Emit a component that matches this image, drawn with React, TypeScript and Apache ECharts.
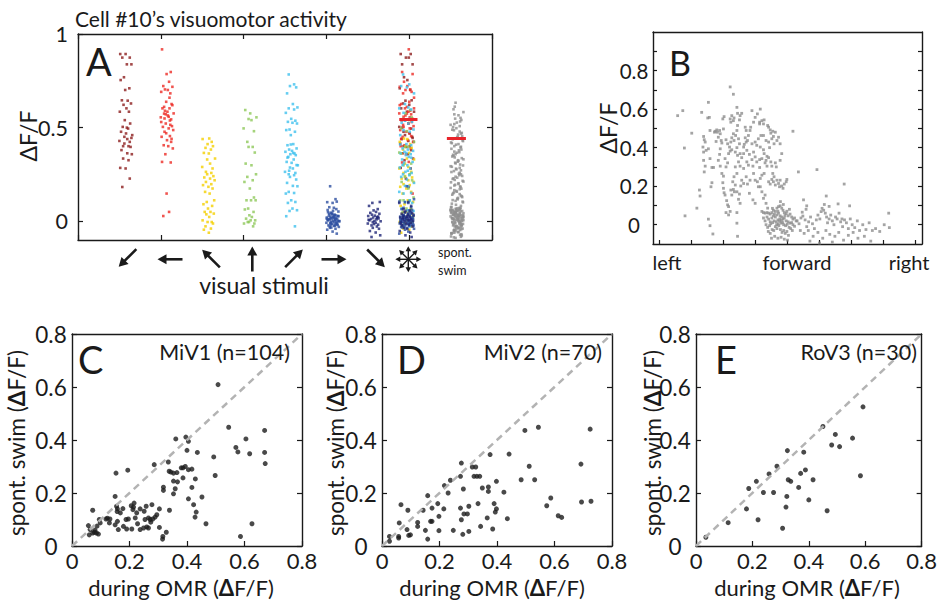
import React, { useEffect, useRef } from "react";
import * as echarts from "echarts";

const FONT = "Lato, 'Open Sans', sans-serif";
const INK = "#1a1a1a";

// ---------- Panel A : cell #10, dF/F per trial ----------
const stimulusColors = ["#8c1d1d", "#ec2a24", "#f4d000", "#8fc85a", "#3fc0ee", "#2d4fa0", "#1f2577"];
const darkRedVals = [0.893, 0.893, 0.874, 0.874, 0.838, 0.838, 0.769, 0.754, 0.71, 0.701, 0.644, 0.646, 0.629, 0.622, 0.603, 0.585, 0.585, 0.54, 0.522, 0.504, 0.495, 0.478, 0.469, 0.46, 0.451, 0.439, 0.429, 0.424, 0.401, 0.401, 0.415, 0.397, 0.38, 0.363, 0.358, 0.335, 0.326, 0.285, 0.282, 0.228, 0.183, 0.5, 0.445];
const redVals = [0.918, 0.797, 0.786, 0.745, 0.722, 0.718, 0.704, 0.701, 0.691, 0.683, 0.638, 0.626, 0.611, 0.603, 0.603, 0.585, 0.576, 0.571, 0.558, 0.555, 0.544, 0.549, 0.538, 0.522, 0.508, 0.504, 0.496, 0.487, 0.478, 0.455, 0.451, 0.433, 0.424, 0.406, 0.401, 0.389, 0.358, 0.317, 0.314, 0.148, 0.05, 0.028, 0.62, 0.59, 0.565, 0.53, 0.515, 0.47, 0.44, 0.575, 0.66];
const yellowVals = [0.442, 0.439, 0.424, 0.412, 0.401, 0.392, 0.383, 0.365, 0.362, 0.335, 0.33, 0.308, 0.29, 0.282, 0.264, 0.258, 0.251, 0.241, 0.234, 0.228, 0.219, 0.21, 0.198, 0.193, 0.184, 0.175, 0.157, 0.148, 0.112, 0.103, 0.091, 0.082, 0.068, 0.05, 0.05, 0.041, 0.037, 0.023, 0.005, -0.004, -0.004, -0.012, -0.027, -0.039, -0.045, -0.061];
const greenVals = [0.594, 0.576, 0.555, 0.546, 0.54, 0.496, 0.481, 0.424, 0.397, 0.397, 0.367, 0.308, 0.299, 0.251, 0.237, 0.219, 0.21, 0.175, 0.127, 0.112, 0.112, 0.112, 0.068, 0.063, 0.05, 0.032, 0.023, 0.014, 0.005, -0.004, 0.005, -0.012, -0.027, -0.004, -0.012];
const cyanVals = [0.784, 0.731, 0.722, 0.715, 0.683, 0.626, 0.608, 0.603, 0.597, 0.579, 0.547, 0.537, 0.531, 0.526, 0.522, 0.49, 0.487, 0.478, 0.46, 0.412, 0.406, 0.389, 0.383, 0.376, 0.371, 0.362, 0.358, 0.353, 0.344, 0.33, 0.317, 0.312, 0.299, 0.287, 0.282, 0.264, 0.258, 0.251, 0.246, 0.237, 0.223, 0.205, 0.189, 0.187, 0.157, 0.151, 0.148, 0.112, 0.103, 0.098, 0.068, 0.059, 0.055, 0.027, -0.027, 0.41, 0.365, 0.34, 0.3, 0.27];
const blueVals = [0.187, 0.118, 0.102, 0.098, 0.105, 0.075, 0.072, 0.052, 0.046, 0.06, 0.065, 0.042, 0.035, 0.03, 0.028, 0.025, 0.022, 0.02, 0.018, 0.015, 0.012, 0.01, 0.008, 0.005, 0.003, 0.0, -0.002, -0.005, -0.008, -0.01, -0.012, -0.015, -0.018, -0.02, -0.022, -0.025, -0.03, -0.035, -0.04, -0.045, -0.055, -0.066, 0.04, 0.033, 0.027, 0.017, 0.007, -0.003, -0.013, -0.023, 0.012, 0.002, -0.007, 0.024, 0.014, 0.031, 0.038, -0.016, -0.028, 0.009, 0.048, 0.056, 0.001, -0.033, 0.019];
const navyVals = [0.103, 0.098, 0.082, 0.065, 0.058, 0.05, 0.045, 0.04, 0.035, 0.03, 0.028, 0.022, 0.02, 0.015, 0.012, 0.01, 0.005, 0.002, 0.0, -0.005, -0.008, -0.012, -0.018, -0.022, -0.028, -0.035, -0.04, -0.052, -0.06, -0.075, -0.084, 0.018, 0.008, -0.015, 0.025];
const stimulusVals = [darkRedVals, redVals, yellowVals, greenVals, cyanVals, blueVals, navyVals];
const spontVals = [
  0.633, 0.571, 0.598, 0.552, 0.612, 0.541, 0.583, 0.519, 0.566, 0.527, 0.548, 0.503, 0.533, 0.489, 0.515, 0.472, 0.508, 0.463, 0.497, 0.451,
  0.486, 0.441, 0.479, 0.428, 0.468, 0.417, 0.455, 0.409, 0.447, 0.398, 0.438, 0.387, 0.432, 0.379, 0.421, 0.369, 0.412, 0.358, 0.401, 0.349,
  0.394, 0.341, 0.383, 0.331, 0.372, 0.322, 0.366, 0.313, 0.355, 0.303, 0.346, 0.294, 0.337, 0.285, 0.326, 0.277, 0.318, 0.268, 0.309, 0.259,
  0.298, 0.251, 0.291, 0.242, 0.281, 0.233, 0.272, 0.226, 0.263, 0.216, 0.254, 0.208, 0.246, 0.199, 0.238, 0.191, 0.229, 0.183, 0.221, 0.174,
  0.212, 0.166, 0.203, 0.158, 0.195, 0.149, 0.186, 0.142, 0.178, 0.133, 0.171, 0.125, 0.162, 0.117, 0.154, 0.109, 0.145, 0.101, 0.137, 0.094,
  0.129, 0.088, 0.121, 0.082, 0.113, 0.077, 0.105, 0.071,
  0.074, -0.012, 0.031, 0.066, -0.045, 0.012, 0.052, -0.028, 0.004, 0.043, -0.061, 0.021, 0.069, -0.005, 0.036, -0.072, 0.015, 0.058, -0.019, 0.027,
  -0.038, 0.063, 0.008, -0.051, 0.047, -0.002, 0.033, -0.083, 0.018, 0.055, -0.025, 0.039, -0.009, 0.061, -0.066, 0.024, 0.002, 0.049, -0.034, 0.014,
  -0.089, 0.041, -0.016, 0.072, 0.029, -0.042, 0.006, 0.053, -0.057, 0.019, 0.037, -0.022, 0.064, -0.003, 0.026, -0.076, 0.045, 0.011, -0.031, 0.057,
  -0.048, 0.022, 0.068, -0.014, 0.034, -0.063, 0.009, 0.051, -0.026, 0.016, -0.007, 0.044, -0.039, 0.03, -0.081, 0.06, 0.001, -0.053, 0.038, 0.013,
  -0.018, 0.048, -0.069, 0.025, 0.005, -0.035, 0.056, -0.011, 0.035, -0.047, 0.017, 0.062, -0.023, 0.04, -0.058, 0.007, 0.028, -0.086, 0.046, -0.004,
  0.02, -0.029, 0.059, 0.003, -0.041, 0.032, -0.015, 0.05, -0.064, 0.023,
];
const meanAllStim = 0.544;
const meanSpont = 0.442;
// horizontal scatter offsets of the strips (in category units)
const jitter = [0.12, 0.27, 0.05, 0.19, 0.3, 0.09, 0.22, 0.02, 0.15, 0.25, 0.07, 0.18, 0.29, 0.11, 0.03, 0.24, 0.14, 0.2, 0.06, 0.28, 0.1, 0.17, 0.01, 0.23, 0.13, 0.26, 0.08, 0.21, 0.04, 0.16, 0.31, 0.12, 0.19, 0.0, 0.25, 0.09, 0.22];

// ---------- Panel B : dF/F vs swim direction ----------
const dirPoints = [
  [0.57, 0.566], [0.73, 0.592], [0.78, 0.398], [0.8, 0.046], [1.01, 0.475], [1.17, 0.086], [1.25, 0.18], [1.27, 0.149], [1.53, 0.635], [1.32, 0.583], [1.51, 0.554], [1.56, 0.557], [1.58, 0.489], [1.53, 0.029], [1.58, -0.005], [1.67, -0.048], [1.64, 0.218], [1.61, 0.197],
  [1.38, 0.458], [1.4, 0.441], [1.43, 0.429], [1.36, 0.403], [1.38, 0.377], [1.46, 0.386], [1.53, 0.394], [1.38, 0.334], [1.43, 0.304], [1.4, 0.274], [1.58, 0.343], [1.64, 0.297], [1.69, 0.297], [1.72, 0.48], [1.74, 0.485], [1.79, 0.492], [1.81, 0.48], [1.88, 0.489], [1.9, 0.472], [1.84, 0.454], [1.77, 0.432], [1.93, 0.437], [1.95, 0.424], [1.9, 0.394], [1.88, 0.365], [1.84, 0.334], [2.0, 0.497], [2.02, 0.561], [1.98, 0.549], [1.9, 0.304], [1.95, 0.266], [2.0, 0.252], [1.98, 0.218], [2.0, 0.189], [2.02, 0.166], [2.05, 0.154], [2.1, 0.125], [2.13, 0.103], [2.08, 0.063], [2.16, 0.051], [2.21, 0.069], [2.16, 0.094], [2.08, 0.3], [2.13, 0.321], [2.05, 0.343], [2.16, 0.369], [2.21, 0.382], [2.26, 0.389], [2.19, 0.403], [2.23, 0.429], [2.13, 0.42], [2.08, 0.441], [2.26, 0.451], [2.31, 0.472], [2.21, 0.549], [2.23, 0.532], [2.31, 0.54], [2.26, 0.566], [2.33, 0.554], [2.21, 0.715], [2.31, 0.677], [2.42, 0.609], [2.44, 0.578], [2.52, 0.566], [2.57, 0.578], [2.5, 0.544], [2.44, 0.515], [2.42, 0.489], [2.38, 0.463], [2.33, 0.437], [2.47, 0.446], [2.5, 0.42], [2.42, 0.4], [2.37, 0.377], [2.44, 0.36], [2.52, 0.369], [2.57, 0.348], [2.47, 0.326], [2.52, 0.304], [2.63, 0.292], [2.37, 0.3], [2.42, 0.266], [2.33, 0.249], [2.29, 0.223], [2.37, 0.206], [2.31, 0.183], [2.23, 0.18], [2.26, 0.154], [2.42, 0.171], [2.5, 0.159], [2.57, 0.231], [2.54, 0.201], [2.47, 0.132], [2.52, 0.111], [2.42, 0.063], [2.42, 0.008], [2.44, -0.06], [2.34, 0.171],
  [2.63, 0.403], [2.65, 0.417], [2.71, 0.429], [2.75, 0.437], [2.68, 0.451], [2.78, 0.463], [2.83, 0.489], [2.85, 0.506], [2.94, 0.532], [2.99, 0.557], [3.06, 0.575], [3.15, 0.6], [2.89, 0.592], [2.68, 0.506], [2.71, 0.489], [2.73, 0.386], [2.81, 0.365], [2.89, 0.338], [2.73, 0.326], [2.63, 0.369], [2.78, 0.309], [2.92, 0.304], [2.99, 0.352], [2.94, 0.266], [2.99, 0.231], [2.83, 0.231], [2.75, 0.211], [2.63, 0.214], [2.71, 0.249], [2.81, 0.163], [2.92, 0.129], [2.99, 0.111], [3.09, 0.197], [3.06, 0.223], [3.15, 0.24], [3.2, 0.257], [3.13, 0.297], [3.04, 0.326], [2.94, 0.377], [2.89, 0.42], [2.99, 0.429], [3.04, 0.412], [3.09, 0.446], [3.17, 0.463], [3.25, 0.463], [3.33, 0.437], [3.15, 0.403], [3.25, 0.389], [3.27, 0.369], [3.2, 0.343], [3.13, 0.338], [3.3, 0.321], [3.36, 0.304], [3.27, 0.266], [3.15, 0.197], [3.2, 0.171], [3.3, 0.154], [3.25, 0.137], [3.33, 0.111], [3.38, 0.086],
  [3.13, 0.532], [3.13, 0.523], [3.2, 0.54], [3.27, 0.544], [3.25, 0.523], [3.38, 0.515], [3.41, 0.506], [3.46, 0.492], [3.48, 0.475], [3.54, 0.485], [3.62, 0.48], [3.56, 0.458], [3.51, 0.446], [3.58, 0.42], [3.67, 0.437], [3.72, 0.454], [3.77, 0.42], [3.41, 0.429], [3.44, 0.4], [3.36, 0.355], [3.41, 0.348], [3.33, 0.334], [3.48, 0.326], [3.51, 0.304], [3.62, 0.321], [3.65, 0.3], [3.54, 0.266], [3.58, 0.249], [3.51, 0.235], [3.46, 0.211], [3.41, 0.223], [3.56, 0.223], [3.67, 0.231], [3.62, 0.206], [3.72, 0.214], [3.77, 0.231], [3.75, 0.197], [3.82, 0.201], [3.9, 0.211], [3.86, 0.189], [3.96, 0.223], [3.98, 0.235], [3.77, 0.334], [3.82, 0.369], [4.17, 0.485], [4.34, 0.274], [4.5, 0.129], [4.6, 0.098], [4.92, 0.286], [5.21, 0.149], [5.77, 0.211], [5.94, 0.098], [7.16, 0.06],
  [3.2, 0.069], [3.25, 0.063], [3.3, 0.06], [3.36, 0.063], [3.41, 0.06], [3.46, 0.055], [3.51, 0.063], [3.56, 0.075], [3.62, 0.069], [3.67, 0.086], [3.72, 0.094], [3.77, 0.098], [3.82, 0.086], [3.86, 0.075], [3.9, 0.063], [3.96, 0.058], [4.02, 0.046], [4.08, 0.055], [4.13, 0.04], [4.17, 0.029], [4.22, 0.035], [4.27, 0.02], [3.25, 0.035], [3.3, 0.02], [3.36, 0.04], [3.41, 0.029], [3.46, 0.015], [3.51, 0.035], [3.56, 0.046], [3.62, 0.04], [3.67, 0.051], [3.72, 0.06], [3.77, 0.046], [3.82, 0.04], [3.86, 0.029], [3.9, 0.035], [3.96, 0.02], [4.02, 0.015], [4.08, 0.008], [4.13, 0.011], [4.17, 0.0], [4.22, -0.008], [3.33, 0.0], [3.38, -0.014], [3.44, -0.005], [3.48, 0.005], [3.54, 0.011], [3.58, 0.02], [3.65, 0.015], [3.7, 0.025], [3.75, 0.018], [3.8, 0.008], [3.85, 0.011], [3.88, 0.0], [3.94, -0.005], [3.99, 0.002], [4.05, -0.014], [4.1, -0.02], [4.15, -0.03], [3.4, -0.035], [3.46, -0.045], [3.52, -0.025], [3.57, -0.03], [3.62, -0.01], [3.67, -0.02], [3.73, -0.005], [3.78, -0.025], [3.83, -0.04], [3.88, -0.03], [3.93, -0.045], [3.98, -0.035], [4.03, -0.055], [3.6, -0.06], [3.7, -0.07], [3.8, -0.065], [3.9, -0.075], [4.0, -0.08], [3.5, -0.07], [3.66, 0.0], [3.71, 0.004], [3.76, 0.03], [3.81, 0.022], [3.92, 0.048], [3.98, 0.07], [4.06, 0.08], [3.87, 0.105], [3.78, 0.12], [3.7, 0.07], [3.59, 0.055], [3.53, 0.085],
  [4.3, 0.02], [4.36, 0.005], [4.42, 0.035], [4.48, 0.045], [4.55, 0.025], [4.6, -0.01], [4.66, 0.015], [4.72, 0.04], [4.78, 0.005], [4.84, -0.02], [4.9, 0.025], [4.95, 0.05], [5.01, 0.03], [5.05, 0.068], [5.08, 0.085], [5.13, 0.075], [5.18, 0.06], [5.22, 0.04], [5.25, 0.01], [5.3, 0.03], [5.35, 0.05], [5.4, 0.02], [5.45, 0.0], [5.5, 0.04], [5.55, 0.03], [5.61, 0.06], [5.66, 0.015], [5.72, -0.01], [5.78, 0.025], [5.84, 0.01], [5.9, -0.02], [5.96, 0.03], [6.02, 0.0], [6.1, -0.015], [6.18, 0.02], [6.25, -0.03], [6.35, 0.0], [6.45, -0.025], [6.55, 0.01], [6.65, -0.03], [6.75, -0.02], [6.88, -0.035], [7.02, 0.0], [7.18, -0.015], [4.4, -0.03], [4.52, -0.045], [4.65, -0.03], [4.8, -0.06], [4.95, -0.04], [5.1, -0.07], [5.2, -0.03], [5.32, -0.05], [5.48, -0.06], [5.6, -0.04], [5.75, -0.08], [5.9, -0.055], [6.05, -0.04], [6.2, -0.07], [6.4, -0.06], [6.6, -0.085], [4.7, -0.085], [5.0, -0.095], [5.4, -0.09], [4.46, 0.065], [4.58, 0.08], [5.15, 0.105], [5.3, 0.095], [5.7, 0.03], [5.58, 0.108],
];
const dirTicks = [0, 1, 2, 3, 4, 5, 6, 7, 8];
const dirLabels = ["left", "forward", "right"];

// ---------- Panels C, D, E : spont. swim vs during OMR ----------
const miv1 = [
  [0.508, 0.609], [0.545, 0.448], [0.67, 0.436], [0.605, 0.404], [0.361, 0.404], [0.396, 0.411], [0.405, 0.395], [0.57, 0.372], [0.577, 0.355], [0.618, 0.348], [0.67, 0.353], [0.672, 0.311], [0.4, 0.361], [0.436, 0.353], [0.493, 0.336], [0.498, 0.266], [0.335, 0.317], [0.194, 0.286], [0.153, 0.275], [0.286, 0.307], [0.338, 0.282], [0.344, 0.279], [0.353, 0.275], [0.365, 0.277], [0.38, 0.295], [0.386, 0.295], [0.394, 0.3], [0.405, 0.288], [0.417, 0.29], [0.353, 0.245], [0.367, 0.242], [0.386, 0.257], [0.429, 0.253], [0.359, 0.216], [0.318, 0.222], [0.318, 0.21], [0.353, 0.197], [0.405, 0.178], [0.417, 0.221], [0.452, 0.185], [0.423, 0.156], [0.432, 0.128], [0.428, 0.109], [0.466, 0.084], [0.586, 0.036], [0.626, 0.084], [0.339, 0.135], [0.304, 0.14], [0.278, 0.156], [0.258, 0.15], [0.251, 0.131], [0.295, 0.118], [0.289, 0.109], [0.281, 0.102], [0.272, 0.1], [0.304, 0.07], [0.316, 0.036], [0.315, 0.026], [0.328, 0.052], [0.225, 0.125], [0.237, 0.14], [0.216, 0.162], [0.206, 0.152], [0.214, 0.147], [0.212, 0.137], [0.177, 0.141], [0.168, 0.125], [0.158, 0.14], [0.15, 0.187], [0.155, 0.15], [0.157, 0.13], [0.158, 0.093], [0.161, 0.062], [0.196, 0.102], [0.22, 0.106], [0.228, 0.084], [0.237, 0.062], [0.208, 0.064], [0.19, 0.064], [0.179, 0.074], [0.254, 0.1], [0.266, 0.106], [0.249, 0.068], [0.26, 0.072], [0.266, 0.068], [0.274, 0.09], [0.072, 0.135], [0.118, 0.102], [0.123, 0.105], [0.132, 0.102], [0.13, 0.087], [0.095, 0.1], [0.098, 0.087], [0.063, 0.062], [0.072, 0.049], [0.078, 0.052], [0.057, 0.077], [0.08, 0.06], [0.085, 0.049], [0.092, 0.045], [0.06, 0.042], [0.087, 0.075], [0.15, 0.08], [0.188, 0.1],
];
const miv2 = [
  [0.724, 0.441], [0.544, 0.448], [0.497, 0.436], [0.442, 0.347], [0.376, 0.345], [0.512, 0.301], [0.484, 0.25], [0.531, 0.25], [0.692, 0.309], [0.694, 0.166], [0.727, 0.169], [0.587, 0.181], [0.573, 0.152], [0.613, 0.114], [0.625, 0.108], [0.436, 0.103], [0.424, 0.203], [0.398, 0.244], [0.37, 0.223], [0.37, 0.206], [0.349, 0.219], [0.334, 0.16], [0.39, 0.16], [0.398, 0.14], [0.394, 0.128], [0.366, 0.106], [0.385, 0.064], [0.314, 0.298], [0.326, 0.298], [0.32, 0.263], [0.33, 0.263], [0.34, 0.263], [0.276, 0.313], [0.273, 0.263], [0.283, 0.215], [0.23, 0.2], [0.217, 0.228], [0.238, 0.248], [0.194, 0.16], [0.215, 0.14], [0.198, 0.112], [0.174, 0.143], [0.169, 0.093], [0.174, 0.093], [0.159, 0.19], [0.151, 0.059], [0.159, 0.026], [0.198, 0.058], [0.248, 0.059], [0.281, 0.044], [0.302, 0.055], [0.276, 0.099], [0.285, 0.121], [0.297, 0.121], [0.302, 0.15], [0.273, 0.143], [0.143, 0.135], [0.124, 0.089], [0.124, 0.074], [0.093, 0.04], [0.099, 0.042], [0.087, 0.062], [0.066, 0.156], [0.09, 0.135], [0.06, 0.087], [0.058, 0.036], [0.058, 0.03], [0.026, 0.036], [0.026, 0.018], [0.343, 0.074],
];
const rov3 = [
  [0.035, 0.033], [0.114, 0.088], [0.179, 0.14], [0.187, 0.217], [0.214, 0.244], [0.22, 0.099], [0.239, 0.202], [0.259, 0.272], [0.275, 0.202], [0.287, 0.301], [0.307, 0.067], [0.319, 0.147], [0.322, 0.187], [0.324, 0.36], [0.327, 0.25], [0.336, 0.244], [0.364, 0.221], [0.371, 0.274], [0.382, 0.354], [0.388, 0.287], [0.4, 0.174], [0.415, 0.25], [0.45, 0.451], [0.465, 0.133], [0.481, 0.381], [0.494, 0.421], [0.509, 0.375], [0.555, 0.407], [0.583, 0.265], [0.592, 0.525],
];
const identity = [0, 0.8];
const scatterPanels = [
  { letter: "C", label: "MiV1 (n=104)", data: miv1 },
  { letter: "D", label: "MiV2 (n=70)", data: miv2 },
  { letter: "E", label: "RoV3 (n=30)", data: rov3 },
];

// ---------- layout ----------
const gridA = { left: 78, top: 34, width: 414, height: 206 };
const gridB = { left: 653, top: 32, width: 269, height: 212 };
const gridsCDE = [
  { left: 72, top: 334, width: 230, height: 212 },
  { left: 382, top: 334, width: 230, height: 212 },
  { left: 696, top: 334, width: 229, height: 212 },
];

const lineStyle = { color: INK, width: 1.4 };
const tickStyle = { color: INK, width: 1.2 };

function axis(o: any) {
  return {
    type: "value",
    splitLine: { show: false },
    axisLine: { show: true, onZero: false, lineStyle },
    axisTick: { show: false },
    axisLabel: { show: false },
    ...o,
  };
}

function txt(text: string, x: number, y: number, fontSize: number, o: any = {}) {
  const align = o.align || "left";
  const va = o.va || "middle";
  return {
    type: "text",
    x,
    y,
    rotation: o.rotation || 0,
    silent: true,
    z: 100,
    style: {
      text,
      fontSize,
      fontFamily: FONT,
      fill: INK,
      align,
      verticalAlign: va,
      textAlign: align,
      textVerticalAlign: va,
      rich: o.rich,
    },
  };
}

function arrow(cx: number, cy: number, dx: number, dy: number, len: number, lw: number, hl: number, hw: number) {
  const n = Math.hypot(dx, dy);
  const ux = dx / n;
  const uy = dy / n;
  const tx = cx - (ux * len) / 2;
  const ty = cy - (uy * len) / 2;
  const hx = cx + (ux * len) / 2;
  const hy = cy + (uy * len) / 2;
  const bx = hx - ux * hl;
  const by = hy - uy * hl;
  const px = -uy;
  const py = ux;
  return [
    { type: "line", silent: true, shape: { x1: tx, y1: ty, x2: bx + ux, y2: by + uy }, style: { stroke: INK, lineWidth: lw } },
    {
      type: "polygon",
      silent: true,
      shape: { points: [[hx, hy], [bx + (px * hw) / 2, by + (py * hw) / 2], [bx - (px * hw) / 2, by - (py * hw) / 2]] },
      style: { fill: INK },
    },
  ];
}

const arrowLayout = [
  [127.5, 258, -1, 1],
  [170, 259.3, -1, 0],
  [211, 258.5, -1, -1],
  [252.3, 259, 0, -1],
  [294, 258.3, 1, -1],
  [334, 259.3, 1, 0],
  [376, 258.3, 1, 1],
];
const starCenter = [408.3, 259.3];

function buildOption() {
  const xAxis: any[] = [];
  const yAxis: any[] = [];
  const series: any[] = [];

  // Panel A axes
  xAxis.push(axis({ gridIndex: 0, min: 0, max: 10, interval: 2, position: "bottom", axisTick: { show: true, inside: true, length: 5, lineStyle: tickStyle } }));
  xAxis.push(axis({ gridIndex: 0, min: 0, max: 10, interval: 2, position: "top", axisTick: { show: true, inside: true, length: 5, lineStyle: tickStyle } }));
  yAxis.push(
    axis({
      gridIndex: 0,
      min: -0.1,
      max: 1,
      position: "left",
      axisTick: { show: true, inside: true, length: 5, lineStyle: tickStyle, customValues: [0, 0.5, 1] },
      axisLabel: { show: true, customValues: [0, 0.5, 1], fontSize: 21.5, fontFamily: FONT, color: INK, margin: 10 },
    })
  );
  yAxis.push(axis({ gridIndex: 0, min: -0.1, max: 1, position: "right", axisTick: { show: true, inside: true, length: 5, lineStyle: tickStyle, customValues: [0, 0.5] } }));

  // Panel B axes
  const bTicks = [0, 0.1, 0.2, 0.3, 0.4, 0.5, 0.6, 0.7, 0.8, 0.9];
  xAxis.push(axis({ gridIndex: 1, min: -0.2, max: 8.2, position: "bottom", axisTick: { show: true, inside: true, length: 4, lineStyle: tickStyle, customValues: dirTicks } }));
  xAxis.push(axis({ gridIndex: 1, min: -0.2, max: 8.2, position: "top" }));
  yAxis.push(
    axis({
      gridIndex: 1,
      min: -0.1,
      max: 1,
      position: "left",
      axisTick: { show: true, inside: true, length: 4, lineStyle: tickStyle, customValues: bTicks },
      axisLabel: { show: true, customValues: [0, 0.2, 0.4, 0.6, 0.8], fontSize: 20.5, fontFamily: FONT, color: INK, margin: 19, align: "center" },
    })
  );
  yAxis.push(axis({ gridIndex: 1, min: -0.1, max: 1, position: "right", axisTick: { show: true, inside: true, length: 4, lineStyle: tickStyle, customValues: bTicks } }));

  // Panels C-E axes
  const fmt = (v: number) => (v === 0 ? "0" : v.toFixed(1));
  gridsCDE.forEach((_, i) => {
    const g = i + 2;
    xAxis.push(
      axis({
        gridIndex: g,
        min: 0,
        max: 0.8,
        interval: 0.2,
        position: "bottom",
        axisTick: { show: true, inside: true, length: 5, lineStyle: tickStyle },
        axisLabel: { show: true, fontSize: 22, fontFamily: FONT, color: INK, margin: 3, formatter: fmt },
      })
    );
    xAxis.push(axis({ gridIndex: g, min: 0, max: 0.8, interval: 0.2, position: "top" }));
    yAxis.push(
      axis({
        gridIndex: g,
        min: 0,
        max: 0.8,
        interval: 0.2,
        position: "left",
        axisTick: { show: true, inside: true, length: 5, lineStyle: tickStyle },
        axisLabel: { show: true, fontSize: 22.5, fontFamily: FONT, color: INK, margin: 21, align: "center", formatter: fmt },
      })
    );
    yAxis.push(
      axis({ gridIndex: g, min: 0, max: 0.8, interval: 0.2, position: "right", axisTick: { show: true, inside: true, length: 5, lineStyle: tickStyle } })
    );
  });

  // Panel A series
  stimulusVals.forEach((vals, k) => {
    const cat = k + 1;
    const own = vals.map((v, i) => [cat + jitter[(i + 7 * cat) % jitter.length], v]);
    const all = vals.map((v, i) => [7.76 + 1.15 * jitter[(i + 3 * cat + 11) % jitter.length], v]);
    series.push({
      type: "scatter",
      xAxisIndex: 0,
      yAxisIndex: 0,
      symbol: "rect",
      symbolSize: 2.6,
      silent: true,
      itemStyle: { color: stimulusColors[k] },
      data: own.concat(all),
    });
  });
  series.push({
    type: "scatter",
    xAxisIndex: 0,
    yAxisIndex: 0,
    symbol: "rect",
    symbolSize: 2.6,
    silent: true,
    itemStyle: { color: "#8f8f8f" },
    data: spontVals.map((v, i) => [9 + jitter[(i * 5) % jitter.length], v]),
  });
  [
    [7.76, 8.2, meanAllStim],
    [8.91, 9.37, meanSpont],
  ].forEach(([a, b, m]) =>
    series.push({
      type: "line",
      xAxisIndex: 0,
      yAxisIndex: 0,
      symbol: "none",
      silent: true,
      z: 5,
      lineStyle: { color: "#e8232a", width: 3 },
      data: [
        [a, m],
        [b, m],
      ],
    })
  );

  // Panel B series
  series.push({
    type: "scatter",
    xAxisIndex: 2,
    yAxisIndex: 2,
    symbol: "rect",
    symbolSize: 2.8,
    silent: true,
    itemStyle: { color: "#8d8d8d" },
    data: dirPoints,
  });

  // Panels C-E series
  scatterPanels.forEach((p, i) => {
    const ax = 4 + i * 2;
    series.push({
      type: "line",
      xAxisIndex: ax,
      yAxisIndex: ax,
      symbol: "none",
      silent: true,
      lineStyle: { color: "#b3b3b3", width: 2.5, type: [7, 5] },
      data: [
        [identity[0], identity[0]],
        [identity[1], identity[1]],
      ],
    });
    series.push({
      type: "scatter",
      xAxisIndex: ax,
      yAxisIndex: ax,
      symbol: "circle",
      symbolSize: 5,
      silent: true,
      itemStyle: { color: "#1c1c1c" },
      data: p.data,
    });
  });

  // graphic texts and arrows
  const dRich = (fs: number) => ({ d: { fontWeight: "bold", fontSize: fs, fontFamily: FONT, fill: INK } });
  const graphic: any[] = [
    txt("Cell #10\u2019s visuomotor activity", 75, 18, 21),
    txt("A", 86, 61, 38),
    txt("\u0394F/F", 28, 136, 23, { align: "center", rotation: Math.PI / 2 }),
    txt("visual stimuli", 264, 285, 23, { align: "center" }),
    txt("spont.", 438, 252, 12.5),
    txt("swim", 438, 270, 12.5),
    txt("B", 669, 62, 34),
    txt("\u0394F/F", 608, 128, 23, { align: "center", rotation: Math.PI / 2 }),
    txt(dirLabels[0], 667, 262, 20, { align: "center" }),
    txt(dirLabels[1], 797, 262, 20, { align: "center" }),
    txt(dirLabels[2], 909, 262, 20, { align: "center" }),
  ];
  const yLabX = [16, 335, 652];
  const xLabX = [181, 492, 807];
  const letterX = [78, 397, 715];
  const labelRight = [290, 602, 917];
  scatterPanels.forEach((p, i) => {
    graphic.push(txt(p.letter, letterX[i], 359, 38));
    graphic.push(txt(p.label, labelRight[i], 352, 21.5, { align: "right" }));
    graphic.push(txt("spont. swim ({d|\u0394}F/F)", yLabX[i], 443, 22.5, { align: "center", rotation: Math.PI / 2, rich: dRich(22.5) }));
    graphic.push(txt("during OMR ({d|\u0394}F/F)", xLabX[i], 587, 22, { align: "center", rich: dRich(22) }));
  });
  arrowLayout.forEach(([cx, cy, dx, dy]) => {
    graphic.push(...arrow(cx, cy, dx, dy, 25, 2.6, 9, 10));
  });
  const dirs = [
    [1, 0], [1, 1], [0, 1], [-1, 1], [-1, 0], [-1, -1], [0, -1], [1, -1],
  ];
  dirs.forEach(([dx, dy]) => {
    const n = Math.hypot(dx, dy);
    graphic.push(...arrow(starCenter[0] + (dx / n) * 6.5, starCenter[1] + (dy / n) * 6.5, dx, dy, 13, 1.4, 5, 5.5));
  });

  return {
    animation: false,
    backgroundColor: "#ffffff",
    textStyle: { fontFamily: FONT },
    grid: [gridA, gridB, ...gridsCDE].map((g) => ({ ...g, containLabel: false })),
    xAxis,
    yAxis,
    series,
    graphic,
  };
}

export default function App() {
  const ref = useRef<HTMLDivElement>(null);
  useEffect(() => {
    if (!ref.current) return;
    const chart = echarts.init(ref.current, undefined, { renderer: "svg" });
    chart.setOption(buildOption() as any);
    return () => chart.dispose();
  }, []);
  return <div ref={ref} style={{ position: "fixed", left: 0, top: 0, width: 940, height: 610, background: "#fff" }} />;
}
